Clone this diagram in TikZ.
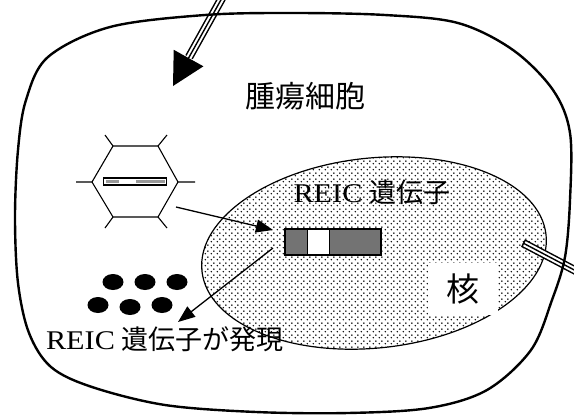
\documentclass[tikz,border=0pt]{standalone}
\usepackage{fontspec}
\setmainfont{Liberation Serif}
\newfontfamily\jpfont{Noto Sans CJK JP}
\newfontfamily\latinwide[FakeStretch=1.12]{Liberation Serif}
\usetikzlibrary{arrows.meta,shapes.geometric,patterns.meta,calc}

% fine dot screen used for the nucleus
\tikzdeclarepattern{
  name=nucdots,
  type=uncolored,
  bounding box={(0pt,0pt) and (6pt,6pt)},
  tile size={(6pt,6pt)},
  code={
    \fill (1.5pt,1.5pt) circle (0.9pt);
    \fill (4.5pt,4.5pt) circle (0.9pt);
  }
}

\newcommand{\reicword}{{\latinwide REIC}\hspace{7pt}}

\tikzset{
  cellline/.style={line width=2.4pt, line join=round},
  pointer/.style={line width=1.3pt, -{Triangle[length=17pt,width=13pt]}},
  thinline/.style={line width=1.1pt},
  jptext/.style={inner sep=0pt, font=\jpfont},
  protein/.style={ellipse, fill=black, minimum width=21pt, minimum height=16pt, inner sep=0pt},
}

\begin{document}
\begin{tikzpicture}[x=1pt,y=-1pt]
\useasboundingbox (0,0) rectangle (574,416);
\clip (0,0) rectangle (574,416);
\fill[white] (0,0) rectangle (574,416);

% nucleus
\node[ellipse, draw, line width=1.2pt, minimum width=346pt, minimum height=190pt,
      rotate=6, preaction={fill=white}, pattern={nucdots}, pattern color=black]
      (nuc) at (374,253) {};

% white patch with the nucleus label
\node[fill=white, minimum width=70pt, minimum height=52pt, inner sep=0pt] (kakubox) at (463,289) {};
\node[jptext, font=\jpfont\fontsize{33}{33}\selectfont] (kaku) at (kakubox) {核};

% labels
\node[jptext, font=\jpfont\fontsize{30}{30}\selectfont] (cellname) at (305,96) {腫瘍細胞};
\node[inner sep=0pt, font=\fontsize{27}{27}\selectfont] (reicin) at (372,192) {\reicword{\jpfont 遺伝子}};
\node[inner sep=0pt, font=\fontsize{27}{27}\selectfont] (expr) at (165,339) {\reicword{\jpfont 遺伝子が発現}};

% expressed protein
\node[protein] (p1) at (113,282) {};
\node[protein] (p2) at (145,282) {};
\node[protein] (p3) at (177,282) {};
\node[protein] (p4) at (98,305) {};
\node[protein] (p5) at (130,307) {};
\node[protein] (p6) at (162,305) {};

% hexagonal vector with its small gene bar
\coordinate (h1) at (92,182);
\coordinate (h2) at (113,146);
\coordinate (h3) at (158,146);
\coordinate (h4) at (178,182);
\coordinate (h5) at (158,217);
\coordinate (h6) at (113,217);
\draw[thinline, line join=round] (h1) -- (h2) -- (h3) -- (h4) -- (h5) -- (h6) -- cycle;
\draw[thinline] (h1) -- ++(-16,0) (h4) -- ++(17,0)
  (h2) -- ++(-8,-11) (h3) -- ++(9,-11)
  (h6) -- ++(-8,11) (h5) -- ++(9,11);
\node[draw, line width=1.4pt, minimum width=63pt, minimum height=7pt, inner sep=0pt] (minigene) at (135,181.5) {};
\fill[black!40] (106,180) rectangle (119,183);
\fill[black!40] (136,180) rectangle (165,183);

% gene cassette inside the nucleus
\node[draw, line width=1.3pt, fill=white, minimum width=96pt, minimum height=26pt, inner sep=0pt] (gene) at (333,242) {};
\fill[black!55] (285.7,229.7) rectangle (307,254.3);
\fill[black!55] (329,229.7) rectangle (380.3,254.3);
\draw[line width=1pt] (307,229.7) -- (307,254.3) (329,229.7) -- (329,254.3);

% transfer arrows
\coordinate (hexout) at (176,207);
\coordinate (genein) at (273,230);
\coordinate (geneout) at (273,248);
\coordinate (exprin) at (178,322);
\draw[pointer] (hexout) -- (genein);
\draw[pointer] (geneout) -- (exprin);

% incoming triple-line arrow
\coordinate (inA) at (222,-2);
\coordinate (tipA) at (173,86);
\coordinate (baseA) at ($(tipA)!32pt!(inA)$);
\draw[line width=8.5pt] (inA) -- ($(baseA)!-1pt!(tipA)$);
\draw[line width=5.5pt, white] (inA) -- (baseA);
\draw[line width=1.4pt] (inA) -- (baseA);
\fill ($(baseA)!17pt!90:(tipA)$) -- (tipA) -- ($(baseA)!17pt!-90:(tipA)$) -- cycle;

% outgoing triple line on the right
\coordinate (outA) at (523,243);
\coordinate (outB) at (580,273);
\draw[line width=8.5pt] (outA) -- (outB);
\draw[line width=5.5pt, white, shorten <=1.5pt] (outA) -- (outB);
\draw[line width=1.4pt] (outA) -- (outB);

% cell membrane
\draw[cellline] plot[smooth cycle, tension=0.55] coordinates {
  (48,57) (110,27) (205,15) (293,13) (385,15) (458,23) (513,50) (553,90)
  (570,133) (570,200) (565,257) (552,300) (531,350) (487,390) (429,408)
  (348,413) (256,412) (165,405) (92,387) (51,367) (29,333) (18,283)
  (15,217) (18,150) (26,100)};
\end{tikzpicture}
\end{document}
